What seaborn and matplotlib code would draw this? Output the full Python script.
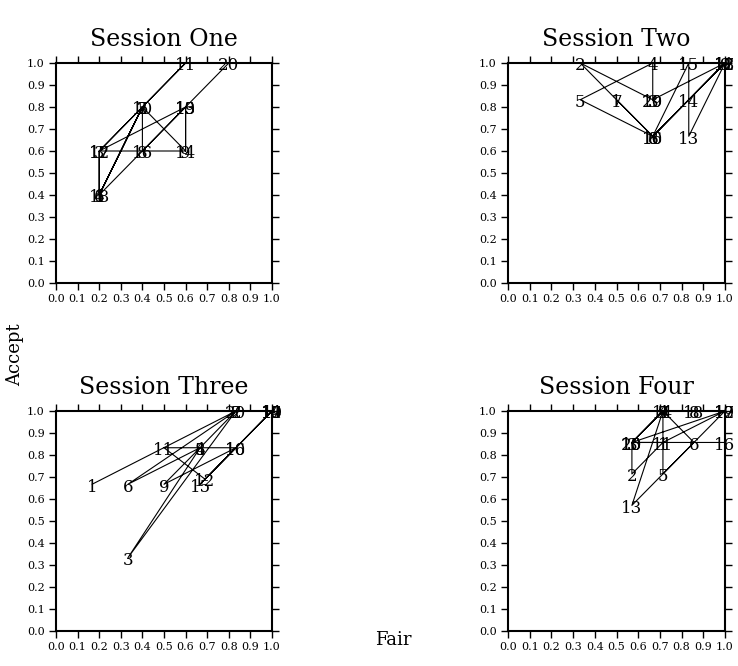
import matplotlib
matplotlib.use("Agg")
import matplotlib.pyplot as plt
import seaborn as sns
import pandas as pd

# fair / accept proportions per round (rounds 1..20), one pair per session
s1_fair = [0.2, 0.4, 0.2, 0.2, 0.4, 0.2, 0.4, 0.4, 0.6, 0.4,
           0.6, 0.2, 0.6, 0.6, 0.6, 0.4, 0.2, 0.2, 0.6, 0.8]
s1_accept = [0.4, 0.8, 0.6, 0.4, 0.8, 0.4, 0.8, 0.6, 0.6, 0.8,
             1.0, 0.6, 0.8, 0.6, 0.8, 0.6, 0.6, 0.4, 0.8, 1.0]

s2_fair = [0.5, 0.333, 0.667, 0.667, 0.333, 0.667, 0.5, 0.667, 1.0, 0.667,
           1.0, 1.0, 0.833, 0.833, 0.833, 0.667, 1.0, 1.0, 0.667, 0.667]
s2_accept = [0.833, 1.0, 0.833, 1.0, 0.833, 0.667, 0.833, 0.667, 1.0, 0.667,
             1.0, 1.0, 0.667, 0.833, 1.0, 0.667, 1.0, 1.0, 0.833, 0.833]

s3_fair = [0.167, 0.833, 0.333, 0.667, 0.667, 0.333, 0.833, 0.667, 0.5, 0.833,
           0.5, 0.69, 1.0, 1.0, 0.667, 0.833, 1.0, 1.0, 1.0, 0.833]
s3_accept = [0.667, 1.0, 0.333, 0.833, 0.833, 0.667, 1.0, 0.833, 0.667, 0.833,
             0.833, 0.69, 1.0, 1.0, 0.667, 0.833, 1.0, 1.0, 1.0, 1.0]

s4_fair = [0.714, 0.571, 0.571, 0.714, 0.714, 0.857, 0.714, 0.857, 0.714, 0.571,
           0.714, 1.0, 0.571, 0.714, 0.571, 1.0, 1.0, 0.857, 1.0, 0.571]
s4_accept = [0.857, 0.714, 0.857, 1.0, 0.714, 0.857, 1.0, 1.0, 1.0, 0.857,
             0.857, 1.0, 0.571, 1.0, 0.857, 0.857, 1.0, 1.0, 1.0, 0.857]

titles = ["Session One", "Session Two", "Session Three", "Session Four"]
tick_values = [0.0, 0.1, 0.2, 0.3, 0.4, 0.5, 0.6, 0.7, 0.8, 0.9, 1.0]
tick_labels = ["0.0", "0.1", "0.2", "0.3", "0.4", "0.5", "0.6", "0.7", "0.8", "0.9", "1.0"]

sns.set_theme(style="ticks")
plt.rcParams["font.family"] = ["DejaVu Serif"]

W, H = 738, 666
fig = plt.figure(figsize=(W / 100, H / 100), dpi=100)

# axes boxes in pixels: left, top, right, bottom
boxes = [(56, 63, 272, 283), (508, 63, 725, 283),
         (56, 411, 272, 631), (508, 411, 725, 631)]
sessions = [(s1_fair, s1_accept), (s2_fair, s2_accept),
            (s3_fair, s3_accept), (s4_fair, s4_accept)]


def draw_session(ax, fair, accept, title):
    df = pd.DataFrame({"round": list(range(1, len(fair) + 1)),
                       "fair": fair, "accept": accept})
    sns.lineplot(data=df, x="fair", y="accept", sort=False, estimator=None,
                 color="black", linewidth=0.8, ax=ax)
    for r, x, y in zip(df["round"], df["fair"], df["accept"]):
        ax.annotate(str(r), (x, y), xytext=(0, -2), textcoords="offset points",
                    ha="center", va="center", fontsize=12, color="black",
                    annotation_clip=False)
    ax.set_xlim(0, 1)
    ax.set_ylim(0, 1)
    ax.set_xticks(tick_values)
    ax.set_xticklabels(tick_labels)
    ax.set_yticks(tick_values)
    ax.set_yticklabels(tick_labels)
    ax.tick_params(direction="out", top=True, right=True, length=5, width=1,
                   labelsize=8, pad=3, color="black", labelcolor="black")
    for sp in ax.spines.values():
        sp.set_linewidth(1.5)
        sp.set_color("black")
    ax.set_xlabel("")
    ax.set_ylabel("")
    ax.text(0.5, 1.105, title, transform=ax.transAxes, ha="center",
            va="center", fontsize=17, color="black")


for (l, t, r, b), (fair, accept), title in zip(boxes, sessions, titles):
    ax = fig.add_axes([l / W, 1 - b / H, (r - l) / W, (b - t) / H])
    draw_session(ax, fair, accept, title)

fig.text(15 / W, 1 - 355 / H, "Accept", rotation=90, ha="center", va="center",
         fontsize=13, color="black")
fig.text(393 / W, 1 - 640 / H, "Fair", ha="center", va="center",
         fontsize=13, color="black")

fig.savefig("out.png", dpi=100)
